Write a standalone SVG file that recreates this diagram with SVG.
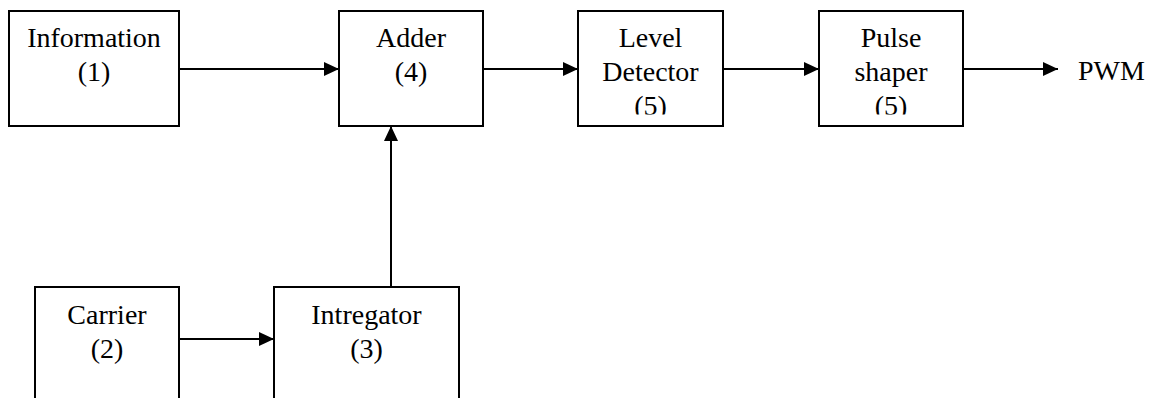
<svg xmlns="http://www.w3.org/2000/svg" width="1154" height="398" viewBox="0 0 1154 398">
  <style>
    .box { fill: #ffffff; stroke: #000000; stroke-width: 2; }
    .lbl { font-family: "Liberation Serif", "Times New Roman", serif; font-size: 28px; fill: #000000; text-anchor: middle; }
    .free { font-family: "Liberation Serif", "Times New Roman", serif; font-size: 28px; fill: #000000; }
    .conn { fill: none; stroke: #000000; stroke-width: 2; marker-end: url(#arrow); }
  </style>
  <defs>
    <marker id="arrow" markerUnits="userSpaceOnUse" markerWidth="15" markerHeight="14" refX="15" refY="7" orient="auto">
      <path d="M0,0 L15,7 L0,14 Z" fill="#000000"/>
    </marker>
    <clipPath id="clipTop">
      <rect x="0" y="0" width="1154" height="114.5"/>
    </clipPath>
  </defs>
  <rect width="1154" height="398" fill="#ffffff"/>

  <g id="connectors">
    <line class="conn" x1="179" y1="69" x2="339" y2="69"/>
    <line class="conn" x1="483" y1="69" x2="578" y2="69"/>
    <line class="conn" x1="723" y1="69" x2="819" y2="69"/>
    <line class="conn" x1="963" y1="69" x2="1058" y2="69"/>
    <line class="conn" x1="179" y1="339" x2="274" y2="339"/>
    <line class="conn" x1="391" y1="287" x2="391" y2="126"/>
  </g>

  <g id="information">
    <rect class="box" x="9" y="11" width="170" height="115"/>
    <text class="lbl" x="94" y="47">Information</text>
    <text class="lbl" x="94" y="80.5">(1)</text>
  </g>

  <g id="adder">
    <rect class="box" x="339" y="11" width="144" height="115"/>
    <text class="lbl" x="411" y="47">Adder</text>
    <text class="lbl" x="411" y="80.5">(4)</text>
  </g>

  <g id="level-detector">
    <rect class="box" x="578" y="11" width="145" height="115"/>
    <text class="lbl" x="650.5" y="47">Level</text>
    <text class="lbl" x="650.5" y="80.5">Detector</text>
    <text class="lbl" x="650.5" y="115" clip-path="url(#clipTop)">(5)</text>
  </g>

  <g id="pulse-shaper">
    <rect class="box" x="819" y="11" width="144" height="115"/>
    <text class="lbl" x="891" y="47">Pulse</text>
    <text class="lbl" x="891" y="80.5">shaper</text>
    <text class="lbl" x="891" y="115" clip-path="url(#clipTop)">(5)</text>
  </g>

  <g id="pwm">
    <text class="free" x="1078" y="80">PWM</text>
  </g>

  <g id="carrier">
    <rect class="box" x="35" y="287" width="144" height="130"/>
    <text class="lbl" x="107" y="324">Carrier</text>
    <text class="lbl" x="107" y="358">(2)</text>
  </g>

  <g id="intregator">
    <rect class="box" x="274" y="287" width="185" height="130"/>
    <text class="lbl" x="366.5" y="324">Intregator</text>
    <text class="lbl" x="366.5" y="358">(3)</text>
  </g>
</svg>
